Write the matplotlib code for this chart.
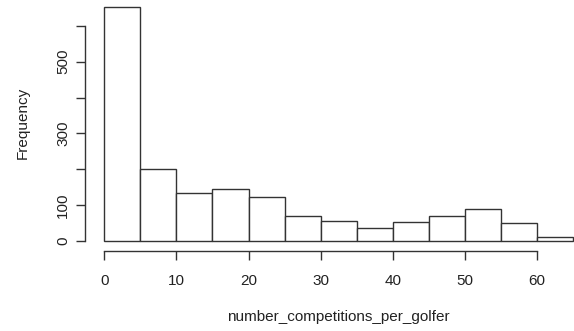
import matplotlib
matplotlib.use("Agg")
import matplotlib.pyplot as plt
import numpy as np

# histogram of competitions per golfer (bin width 5)
bin_edges = np.arange(0, 70, 5)
counts = [652, 200, 134, 144, 121, 69, 56, 36, 51, 69, 88, 49, 9]
y_ticks = [0, 100, 200, 300, 400, 500, 600]
y_labels = ["0", "100", "", "300", "", "500", ""]
x_ticks = [0, 10, 20, 30, 40, 50, 60]

plt.rcParams['font.family'] = ['Liberation Sans', 'DejaVu Sans']
line_col = "#333333"

W, H = 574, 331
fig = plt.figure(figsize=(W / 100, H / 100), dpi=100)
fig.patch.set_facecolor("white")

# axes box in pixels, then data limits chosen so 0 -> x104.3, 0 -> y240.7
left_px, right_px, top_px, bot_px = 60, 574, 0, 262
ax = fig.add_axes([left_px / W, 1 - bot_px / H, (right_px - left_px) / W, (bot_px - top_px) / H])
x0, xs = 104.3, 7.21
y0, ys = 240.7, 0.358
ax.set_xlim((left_px - x0) / xs, (right_px - x0) / xs)
ax.set_ylim((y0 - bot_px) / ys, (y0 - top_px) / ys)

ax.bar(bin_edges[:-1], counts, width=5, align="edge", color="white",
       edgecolor=line_col, linewidth=1.0, clip_on=False)

for s in ["top", "right"]:
    ax.spines[s].set_visible(False)
ax.spines["left"].set_position(("data", (85.3 - x0) / xs))
ax.spines["left"].set_bounds(0, 600)
ax.spines["bottom"].set_position(("data", (y0 - 250.7) / ys))
ax.spines["bottom"].set_bounds(0, 60)
for s in ["left", "bottom"]:
    ax.spines[s].set_color(line_col)
    ax.spines[s].set_linewidth(1.0)

ax.set_xticks(x_ticks)
ax.set_yticks(y_ticks)
ax.set_yticklabels(y_labels, rotation=90, va="center")
ax.tick_params(axis="both", length=6.5, width=1.0, color=line_col,
               labelsize=11, labelcolor="#222222")
ax.tick_params(axis="x", pad=10)
ax.tick_params(axis="y", pad=4.5)

fig.text(338 / W, 1 - 316.5 / H, "number_competitions_per_golfer",
         ha="center", va="center", fontsize=11, color="#222222")
fig.text(23 / W, 1 - 123 / H, "Frequency", rotation=90,
         ha="center", va="center", fontsize=11, color="#222222")

fig.savefig("out.png", dpi=100)
